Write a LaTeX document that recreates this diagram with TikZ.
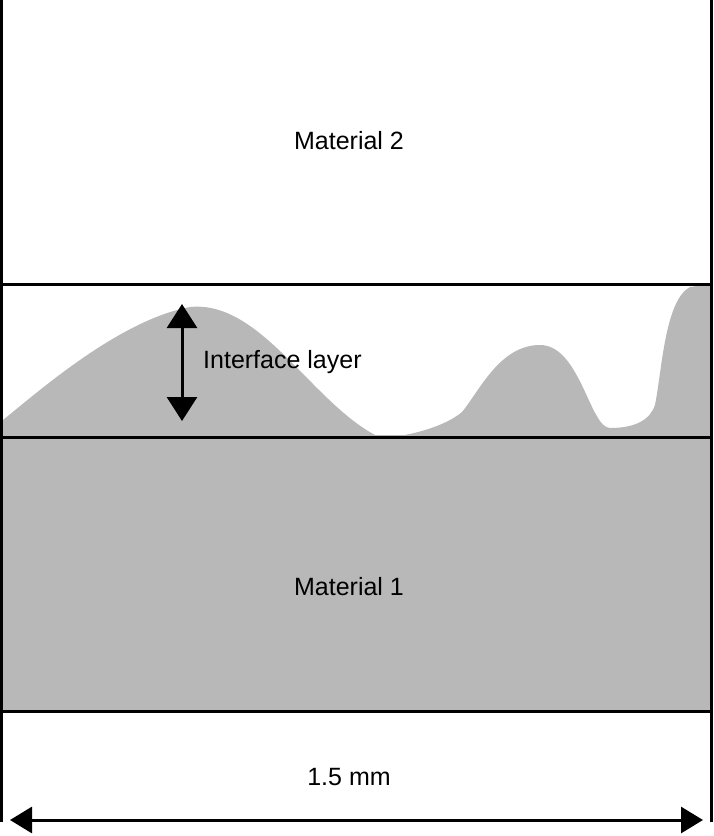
\documentclass[tikz,border=0pt]{standalone}
\usepackage{fontspec}
\setmainfont{Liberation Sans}
\usetikzlibrary{arrows.meta}
\begin{document}
\begin{tikzpicture}[x=1pt,y=-1pt,
  frame/.style={line width=3pt,black},
  lab/.style={font=\fontsize{25}{28}\selectfont,inner sep=0pt},
  dim/.style={line width=3pt,{Triangle[length=22pt,width=26pt]}-{Triangle[length=22pt,width=26pt]}}]
\useasboundingbox (0,0) rectangle (713,836);
\fill[gray!55!white,fill=black!28] (3,437) rectangle (710,711);
\fill[fill=black!28] (3,437) -- (3,420) .. controls (40,390) and (120,320) .. (190,307)
  .. controls (260,300) and (310,400) .. (375,435) -- (405,435)
  .. controls (430,430) and (450,422) .. (462,412)
  .. controls (480,390) and (500,345) .. (540,345)
  .. controls (580,345) and (590,428) .. (610,428)
  .. controls (635,428) and (650,420) .. (655,405)
  .. controls (662,370) and (665,300) .. (690,287) -- (710,284) -- (710,437) -- cycle;
\draw[frame] (1.5,0) -- (1.5,822);
\draw[frame] (711.5,0) -- (711.5,822);
\draw[frame] (0,284) -- (713,284);
\draw[frame] (0,437) -- (713,437);
\draw[frame] (0,711) -- (713,711);
\coordinate (at) at (182,304);
\coordinate (ab) at (182,421);
\draw[dim,{Triangle[length=24pt,width=30pt]}-{Triangle[length=24pt,width=30pt]}] (at) -- (ab);
\coordinate (bl) at (10,820);
\coordinate (br) at (703,820);
\draw[dim] (bl) -- (br);
\node[lab] (m2) at (349,141) {Material 2};
\node[lab] (m1) at (349,587) {Material 1};
\node[lab,anchor=west] (il) at (203,362) {Interface layer};
\node[lab] (w) at (349,777) {1.5 mm};
\end{tikzpicture}
\end{document}
